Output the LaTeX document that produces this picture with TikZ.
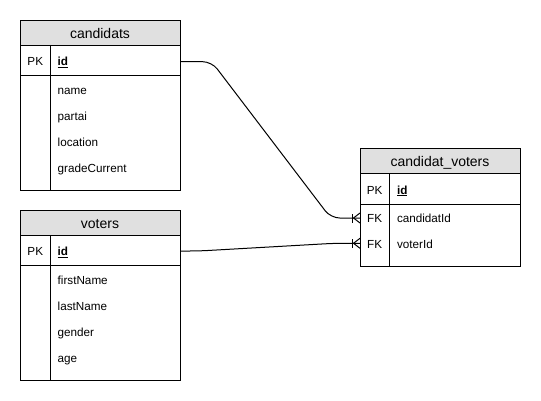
\documentclass[tikz,border=0pt]{standalone}
\usepackage{fontspec}
\setmainfont{Liberation Sans}
\definecolor{hdrgray}{RGB}{224,224,224}
\begin{document}
\begin{tikzpicture}[x=1pt,y=-1pt,
  tablebox/.style={draw=black, line width=1pt, inner sep=0pt, anchor=north west, minimum width=160pt},
  hdrbox/.style={draw=black, fill=hdrgray, line width=1pt, inner sep=0pt, anchor=north west, minimum width=160pt, minimum height=25pt},
  sep/.style={draw=black, line width=1pt},
  title/.style={font=\fontsize{14}{16}\selectfont, anchor=base, inner sep=0pt},
  fld/.style={font=\fontsize{11.7}{13}\selectfont, anchor=base west, inner sep=0pt},
  keylbl/.style={font=\fontsize{11.7}{13}\selectfont, anchor=base, inner sep=0pt},
  rel/.style={draw=black, line width=1pt, rounded corners=9pt},
  foot/.style={draw=black, line width=1pt}
]
\useasboundingbox (0,0) rectangle (541,401);
\fill[white] (0,0) rectangle (541,401);

% ---------- candidats ----------
\node[hdrbox] (candh) at (20,20) {};
\node[tablebox, minimum height=170pt] (cand) at (20,20) {};
\draw[sep] (20,75.7) -- (180,75.7);
\draw[sep] (50.7,45) -- (50.7,190);
\node[title] (candt) at (100,38.5) {candidats};
\node[keylbl] (candpk) at (35.3,65.7) {PK};
\node[fld] (candid) at (57.5,65.7) {\underline{\textbf{id}}};
\node[fld] (candname) at (57.5,94.3) {name};
\node[fld] (candpartai) at (57.5,120.3) {partai};
\node[fld] (candloc) at (57.5,146.3) {location};
\node[fld] (candgrade) at (57.5,172.3) {gradeCurrent};

% ---------- voters ----------
\node[hdrbox] (voth) at (20,210) {};
\node[tablebox, minimum height=170pt] (vot) at (20,210) {};
\draw[sep] (20,265.7) -- (180,265.7);
\draw[sep] (50.7,235) -- (50.7,380);
\node[title] (vott) at (100,228.5) {voters};
\node[keylbl] (votpk) at (35.3,255.7) {PK};
\node[fld] (votid) at (57.5,255.7) {\underline{\textbf{id}}};
\node[fld] (votfirst) at (57.5,284.3) {firstName};
\node[fld] (votlast) at (57.5,310.3) {lastName};
\node[fld] (votgender) at (57.5,336.3) {gender};
\node[fld] (votage) at (57.5,362.3) {age};

% ---------- candidat_voters ----------
\node[hdrbox] (cvh) at (360,148.3) {};
\node[tablebox, minimum height=117.7pt] (cv) at (360,148.3) {};
\draw[sep] (360,204.3) -- (520,204.3);
\draw[sep] (389.3,173.3) -- (389.3,266);
\node[title] (cvt) at (440,166.8) {candidat\_voters};
\node[keylbl] (cvpk) at (374.7,194) {PK};
\node[fld] (cvid) at (396.8,194) {\underline{\textbf{id}}};
\node[keylbl] (cvfk1) at (374.7,222.8) {FK};
\node[fld] (cvcand) at (396.8,222.8) {candidatId};
\node[keylbl] (cvfk2) at (374.7,248.8) {FK};
\node[fld] (cvvot) at (396.8,248.8) {voterId};

% ---------- connectors ----------
\coordinate (candidE) at (180,61.7);
\coordinate (votidE) at (180,251);
\coordinate (cvcandW) at (360,218);
\coordinate (cvvotW) at (360,243.3);

\draw[rel] (candidE) -- (211.7,61.7) -- (330.7,218) -- (cvcandW);
\draw[rel] (votidE) -- (199,251) -- (334,243.3) -- (cvvotW);

% crow's feet (one or many)
\draw[foot] ([xshift=-7.3pt,yshift=-4.5pt]cvcandW) -- ([xshift=-7.3pt,yshift=4.5pt]cvcandW);
\draw[foot] ([xshift=-6.5pt]cvcandW) -- ([yshift=-5pt]cvcandW);
\draw[foot] ([xshift=-6.5pt]cvcandW) -- ([yshift=5pt]cvcandW);
\draw[foot] ([xshift=-7.3pt,yshift=-4.5pt]cvvotW) -- ([xshift=-7.3pt,yshift=4.5pt]cvvotW);
\draw[foot] ([xshift=-6.5pt]cvvotW) -- ([yshift=-5pt]cvvotW);
\draw[foot] ([xshift=-6.5pt]cvvotW) -- ([yshift=5pt]cvvotW);
\end{tikzpicture}
\end{document}
